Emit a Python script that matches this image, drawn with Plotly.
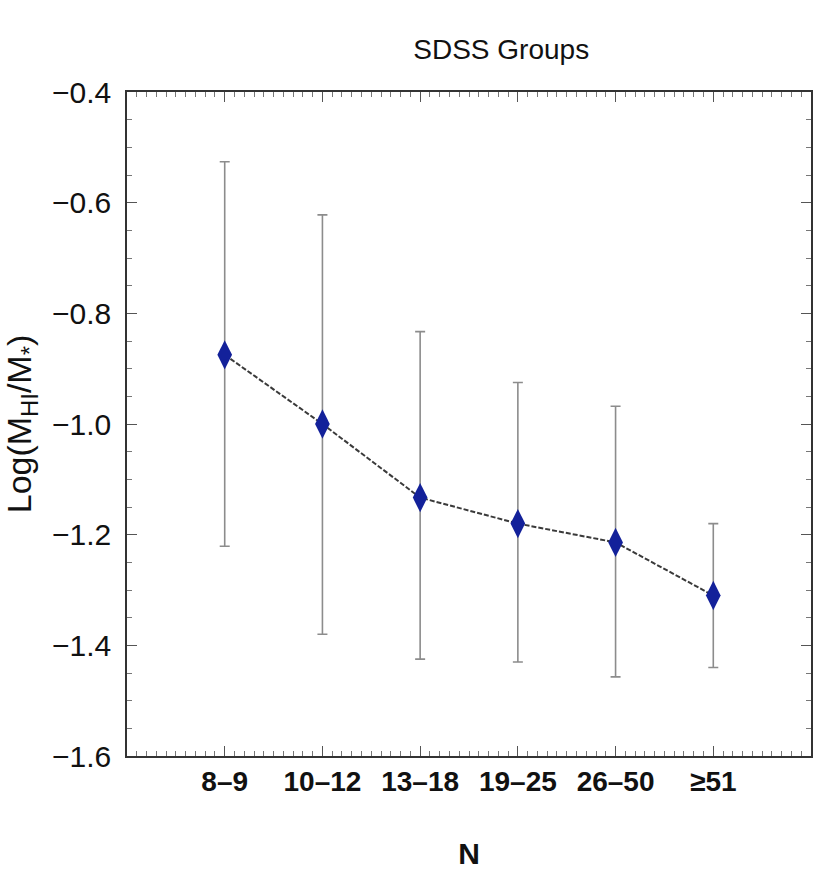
import plotly.graph_objects as go

categories = ['8\u20139', '10\u201312', '13\u201318', '19\u201325', '26\u201350', '\u226551']
values = [-0.875, -1.0, -1.133, -1.18, -1.214, -1.31]
upper = [-0.526, -0.622, -0.833, -0.925, -0.968, -1.18]
lower = [-1.221, -1.38, -1.425, -1.43, -1.457, -1.44]

xpos = list(range(len(categories)))
err_plus = [u - v for u, v in zip(upper, values)]
err_minus = [v - l for v, l in zip(values, lower)]

FONT = "Liberation Sans, Arial, Helvetica, sans-serif"

fig = go.Figure()
fig.add_trace(go.Scatter(
    x=xpos, y=values,
    mode='lines+markers',
    line=dict(color='#3a3a3a', width=2, dash='5px,2px'),
    marker=dict(symbol='diamond-tall', size=21, color='#13219a',
                line=dict(width=0)),
    error_y=dict(type='data', symmetric=False, array=err_plus, arrayminus=err_minus,
                 color='#8c8c8c', thickness=1.6, width=5),
    showlegend=False,
))

axis_common = dict(
    showline=True, linecolor='#333333', linewidth=1.5, mirror='ticks',
    ticks='inside', tickcolor='#555555', tickwidth=1.2,
    showgrid=False, zeroline=False,
)

fig.update_xaxes(
    **axis_common,
    range=[-1, 6],
    tickmode='array', tickvals=xpos, ticktext=categories,
    ticklen=10,
    tickfont=dict(family=FONT, size=28, color='#111111', weight='bold'),
    minor=dict(tickmode='linear', tick0=0, dtick=0.1, ticklen=5, ticks='inside',
               tickcolor='#777777', tickwidth=1),
    title=dict(text='<b>N</b>', font=dict(family=FONT, size=30, color='#111111'), standoff=50),
)
fig.update_yaxes(
    **axis_common,
    range=[-1.6, -0.4],
    tickmode='linear', tick0=-1.6, dtick=0.2, tickformat='.1f',
    ticklen=10,
    tickfont=dict(family=FONT, size=30, color='#111111'),
    ticklabelstandoff=8,
    minor=dict(tickmode='linear', tick0=-1.6, dtick=0.05, ticklen=5, ticks='inside',
               tickcolor='#777777', tickwidth=1),
    title=dict(text='Log(M<sub>HI</sub>/M<sub>*</sub>)',
               font=dict(family=FONT, size=34, color='#111111'), standoff=12),
)

fig.update_layout(
    width=815, height=870,
    margin=dict(l=127, r=2, t=92, b=113),
    paper_bgcolor='white', plot_bgcolor='white',
    title=dict(text='SDSS Groups', x=0.615, xanchor='center', y=0.943, yanchor='middle',
               font=dict(family=FONT, size=28, color='#111111')),
)

fig.write_html("out.html")
